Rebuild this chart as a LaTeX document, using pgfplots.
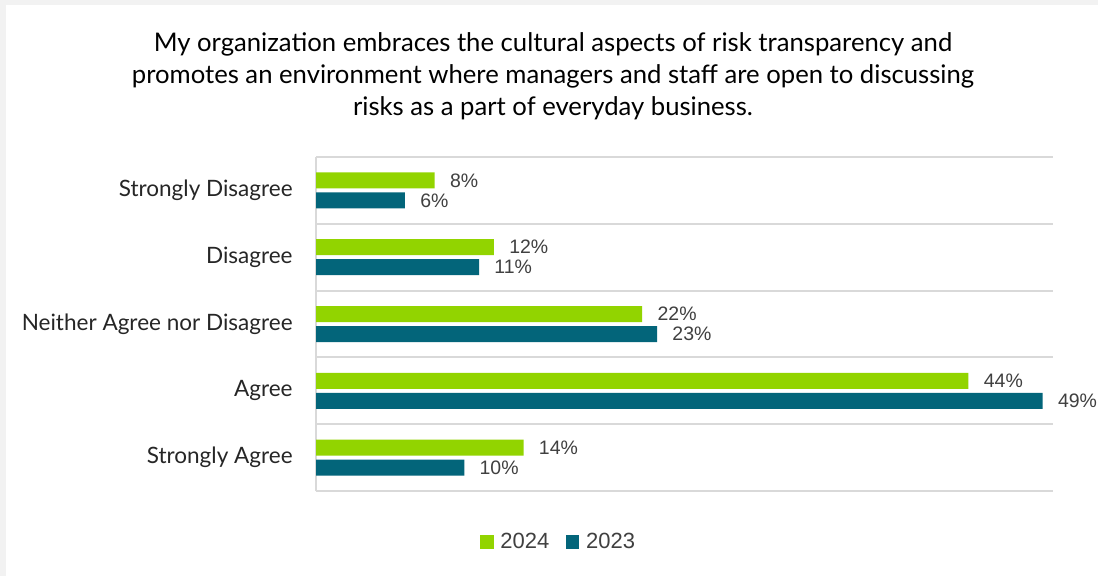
\documentclass[border=0pt]{standalone}
\usepackage{pgfplots}
\pgfplotsset{compat=1.18}
\usepackage{fontspec}
\setmainfont{Liberation Sans}
\newfontfamily\headfont{Lato}
\definecolor{lime24}{HTML}{92D400}
\definecolor{teal23}{HTML}{03657A}
\definecolor{gridgray}{HTML}{D9D9D9}
\definecolor{framegray}{HTML}{F2F2F2}
\definecolor{labeltext}{HTML}{404040}

\begin{document}
\begin{tikzpicture}
\useasboundingbox (0,0) rectangle (823.5pt,432pt);
% page background with thin grey frame on the left and top
\fill[framegray] (0,0) rectangle (823.5pt,432pt);
\fill[white] (4.5pt,0) rectangle (823.5pt,428.25pt);

% title
\node[align=center, font=\headfont\fontsize{19.25pt}{24pt}\selectfont, text=black]
  at (414.75pt,375pt)
  {My organization embraces the cultural aspects of risk transparency and\\
   promotes an environment where managers and staff are open to discussing\\
   risks as a part of everyday business.};

\begin{axis}[
  at={(237pt,63.75pt)}, anchor=south west,
  scale only axis,
  width=552.75pt, height=250.5pt,
  xbar, bar width=12pt,
  xmin=0, xmax=49.7,
  ymin=-0.5, ymax=4.5,
  /pgf/number format/assume math mode=true,
  axis line style={draw=none},
  tick style={draw=none},
  major tick length=0pt, minor tick length=0pt,
  xtick={0}, xticklabels={},
  xmajorgrids,
  ytick={0,1,2,3,4},
  yticklabels={Strongly Agree, Agree, Neither Agree nor Disagree, Disagree, Strongly Disagree},
  yticklabel style={font=\headfont\fontsize{16.9pt}{19pt}\selectfont, text=black!85, xshift=-14pt},
  minor ytick={-0.5,0.5,1.5,2.5,3.5,4.5},
  yminorgrids,
  major grid style={draw=gridgray, line width=1.5pt},
  minor grid style={draw=gridgray, line width=1.5pt},
  clip=false,
  point meta=x,
  nodes near coords={\pgfmathprintnumber{\pgfplotspointmeta}\%},
  nodes near coords style={font=\fontsize{14.6pt}{17pt}\selectfont, text=labeltext, anchor=west, xshift=8pt},
  legend style={at={(0.3298,-0.1527)}, anchor=center, draw=none, fill=none,
    legend columns=2, font=\fontsize{16.5pt}{19pt}\selectfont, text=labeltext,
    /tikz/every even column/.append style={column sep=10.5pt},
    /tikz/every odd column/.append style={column sep=3pt}},
  legend image code/.code={\fill[#1] (0pt,-5pt) rectangle (10pt,5pt);},
]
\addplot[fill=lime24, draw=none, bar shift=7.5pt] coordinates {
  (8,4) (12,3) (22,2) (44,1) (14,0)
};
\addlegendentry{2024}
\addplot[fill=teal23, draw=none, bar shift=-7.5pt] coordinates {
  (6,4) (11,3) (23,2) (49,1) (10,0)
};
\addlegendentry{2023}
\end{axis}
\end{tikzpicture}
\end{document}
